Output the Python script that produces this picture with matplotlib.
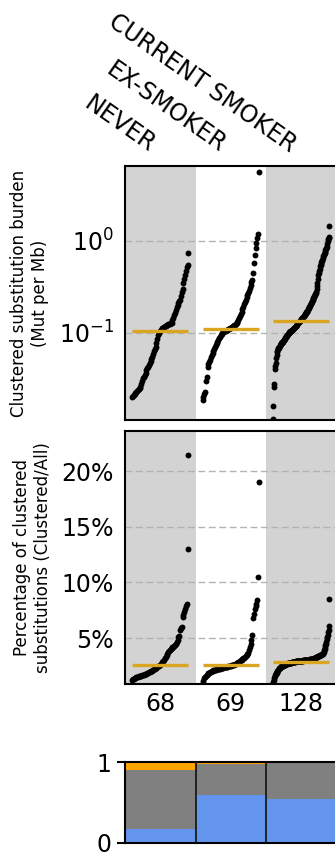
import numpy as np
import matplotlib
matplotlib.use("Agg")
import matplotlib.pyplot as plt
from matplotlib.ticker import PercentFormatter, NullLocator


# -----------------------------
# Data (sorted per group)
# -----------------------------
groups = ["NEVER", "EX-SMOKER", "CURRENT SMOKER"]
group_sizes = ["68", "69", "128"]

never_burden = [
    0.0200, 0.0205, 0.0210, 0.0215, 0.0222, 0.0228, 0.0235, 0.0240, 0.0246, 0.0253, 0.0261,
    0.028, 0.030, 0.032, 0.0335,
    0.035, 0.037, 0.039, 0.041, 0.043, 0.045,
    0.047, 0.050, 0.052, 0.055,
    0.059, 0.063, 0.067, 0.071,
    0.078, 0.086,
    0.094, 0.100, 0.104, 0.108,
    0.110, 0.112, 0.114, 0.116, 0.118, 0.120, 0.122,
    0.123, 0.124, 0.125, 0.126, 0.128, 0.129,
    0.138, 0.145, 0.155, 0.165, 0.178, 0.193,
    0.203, 0.212, 0.220, 0.229,
    0.250, 0.281, 0.300, 0.347,
    0.38, 0.427, 0.47, 0.52, 0.548, 0.734,
]
ex_burden = [
    0.0187, 0.0200, 0.0215, 0.0230,
    0.030, 0.033,
    0.043, 0.046, 0.048, 0.051,
    0.054, 0.057, 0.060, 0.063,
    0.066, 0.070, 0.074, 0.077,
    0.080, 0.084, 0.088, 0.091,
    0.094, 0.097, 0.100, 0.103,
    0.104, 0.105, 0.106, 0.107, 0.108, 0.109, 0.110, 0.112,
    0.113, 0.115, 0.117, 0.119, 0.121, 0.123, 0.125, 0.127,
    0.132, 0.138, 0.144, 0.151,
    0.160, 0.170, 0.181, 0.193,
    0.205, 0.217, 0.229, 0.244,
    0.259, 0.272, 0.288, 0.306,
    0.33, 0.355, 0.377, 0.446,
    0.571, 0.705, 0.83,
    0.95, 1.07, 1.19, 5.58,
]
current_burden = [
    0.0115,
    0.0162,
    0.026, 0.0275,
    0.040, 0.044, 0.047,
    0.053, 0.058, 0.0627,
    0.064, 0.066, 0.068, 0.069, 0.071, 0.072, 0.074,
    0.075, 0.076, 0.077, 0.078, 0.079, 0.080, 0.082, 0.083, 0.084, 0.086, 0.0875,
    0.089, 0.090, 0.092, 0.093, 0.095, 0.096, 0.097, 0.099, 0.100, 0.102, 0.103,
    0.104, 0.105, 0.106, 0.107, 0.108, 0.109, 0.110, 0.111, 0.113, 0.114, 0.115, 0.117,
    0.118, 0.120, 0.122,
    0.124, 0.125, 0.127, 0.129, 0.130, 0.132, 0.134, 0.136, 0.138, 0.140, 0.142, 0.144,
    0.146, 0.148, 0.150, 0.152, 0.154, 0.156, 0.159, 0.161, 0.164, 0.167, 0.170,
    0.174, 0.177, 0.181, 0.185, 0.189, 0.193, 0.197, 0.200,
    0.205, 0.210, 0.216, 0.222, 0.228, 0.233, 0.238,
    0.245, 0.252, 0.259, 0.266, 0.273, 0.281,
    0.300, 0.322, 0.347, 0.385, 0.427,
    0.445, 0.47, 0.50, 0.526,
    0.545, 0.565, 0.585, 0.605, 0.625, 0.65, 0.676,
    0.70, 0.72, 0.74, 0.765, 0.79, 0.81, 0.84, 0.867,
    0.93, 1.0, 1.05, 1.08,
    1.10, 1.455,
]
burden_medians = [0.105, 0.111, 0.135]

never_pct = [
    1.22, 1.28, 1.33, 1.38, 1.43, 1.49,
    1.51, 1.54, 1.56, 1.58, 1.61, 1.63, 1.65, 1.67,
    1.70, 1.74, 1.78, 1.81, 1.85, 1.89, 1.93, 1.97, 2.00, 2.04, 2.08, 2.12,
    2.18, 2.23, 2.29, 2.34, 2.40, 2.45, 2.50, 2.57,
    2.65, 2.75, 2.85, 2.95, 3.05, 3.17,
    3.30, 3.45, 3.60, 3.76,
    3.85, 3.93, 4.00, 4.08,
    4.15, 4.22, 4.30, 4.37,
    4.50, 4.65, 4.80,
    5.05, 5.20, 5.75,
    5.90, 6.00, 6.90,
    7.10, 7.35, 7.60, 7.85, 8.10,
    12.96, 21.4,
]
ex_pct = [
    0.92, 1.10, 1.37,
    1.50, 1.62, 1.70, 1.76,
    1.82, 1.87, 1.92, 1.97, 2.01, 2.05, 2.09, 2.12,
    2.14, 2.16, 2.18, 2.20, 2.22, 2.24, 2.26, 2.28, 2.30, 2.32, 2.34, 2.36, 2.38, 2.40,
    2.42, 2.44,
    2.46, 2.48, 2.50, 2.52, 2.54, 2.56, 2.59, 2.62, 2.65, 2.68, 2.72,
    2.77, 2.82, 2.88, 2.94, 3.00, 3.06, 3.12, 3.17,
    3.25, 3.33, 3.42, 3.50, 3.57, 3.62,
    3.90, 4.20, 4.50, 4.80, 5.26,
    6.76, 7.20, 7.60,
    7.90, 8.10, 8.41, 10.45, 19.04,
]
current_pct = [
    0.90, 1.05, 1.22,
    1.40, 1.55, 1.67,
    1.75, 1.83, 1.90, 1.97, 2.04, 2.12,
    2.17, 2.22, 2.27, 2.31, 2.35, 2.39, 2.42,
    2.45, 2.47, 2.49, 2.51, 2.53, 2.55, 2.57, 2.59, 2.61, 2.63, 2.65, 2.67, 2.69, 2.71, 2.72,
    2.73, 2.74, 2.75, 2.76, 2.77, 2.78, 2.79, 2.80, 2.81, 2.82, 2.83, 2.84, 2.85, 2.87,
    2.88, 2.885, 2.89, 2.90, 2.905, 2.91, 2.915, 2.92, 2.925, 2.93, 2.935, 2.94, 2.945,
    2.95, 2.955, 2.96, 2.965, 2.97, 2.975, 2.98, 2.985, 2.99, 2.995, 3.00, 3.005, 3.01,
    3.012, 3.015, 3.018, 3.02,
    3.03, 3.04, 3.05, 3.06, 3.07, 3.08, 3.09, 3.10, 3.11, 3.12, 3.13, 3.14, 3.15, 3.16,
    3.18, 3.20, 3.22, 3.24, 3.26, 3.28, 3.30, 3.32,
    3.34, 3.36, 3.38, 3.40, 3.42, 3.44, 3.46, 3.48, 3.50, 3.52, 3.54, 3.56, 3.59, 3.62,
    3.75, 3.90, 4.05, 4.20, 4.35, 4.50, 4.66,
    4.90, 5.10, 5.30, 5.50, 5.75, 6.10,
    8.47,
]
pct_medians = [2.54, 2.54, 2.84]

# stacked fractions per group (bottom to top)
frac_blue = [0.17, 0.59, 0.54]
frac_gray = [0.73, 0.385, 0.457]
frac_orange = [0.10, 0.025, 0.003]

burden_data = [never_burden, ex_burden, current_burden]
pct_data = [never_pct, ex_pct, current_pct]


# -----------------------------
# Figure layout
# -----------------------------
plt.rcParams["font.family"] = "DejaVu Sans"

W, H = 335, 861
fig = plt.figure(figsize=(W / 100, H / 100), dpi=100)

col_px = 70.5
left_px = 125
right_px = 350
x_lo = -0.5
x_hi = x_lo + (right_px - left_px) / col_px


def px_axes(top, bottom):
    return fig.add_axes([left_px / W, 1 - bottom / H, (right_px - left_px) / W, (bottom - top) / H])


ax_top = px_axes(166, 420)
ax_mid = px_axes(431, 684)
ax_bar = px_axes(762, 843)

GRID = dict(color="#b3b3b3", lw=1.0, ls=(0, (5, 2.5)), zorder=1)


def style_panel(ax):
    ax.set_xlim(x_lo, x_hi)
    for sp in ax.spines.values():
        sp.set_linewidth(1.5)
    for i in range(3):
        if i % 2 == 0:
            ax.axvspan(i - 0.5, i + 0.5, color="#d3d3d3", lw=0, zorder=0)


def draw_dots(ax, data, medians):
    for i, vals in enumerate(data):
        xs = np.linspace(i - 0.4, i + 0.4, len(vals))
        ax.scatter(xs, vals, s=18, color="black", lw=0, zorder=3)
        ax.plot([i - 0.4, i + 0.4], [medians[i], medians[i]], color="#DAA520", lw=2.4, zorder=4,
                solid_capstyle="butt")


# -----------------------------
# Top panel: clustered burden (log)
# -----------------------------
style_panel(ax_top)
ax_top.set_yscale("log")
ax_top.set_ylim(0.0113, 6.5)
for yv in [0.1, 1.0]:
    ax_top.axhline(yv, **GRID)
draw_dots(ax_top, burden_data, burden_medians)
ax_top.set_yticks([0.1, 1.0])
ax_top.yaxis.set_minor_locator(NullLocator())
ax_top.set_xticks([])
ax_top.tick_params(axis="y", length=0, pad=8, labelsize=17)
ax_top.set_ylabel("Clustered substitution burden\n(Mut per Mb)", fontsize=12, labelpad=7)

for i, name in enumerate(groups):
    ax_top.annotate(name, xy=(i, 1.0), xycoords=("data", "axes fraction"),
                    xytext=(-12, 13), textcoords="offset pixels",
                    rotation=-35, rotation_mode="anchor", ha="right", va="baseline",
                    fontsize=17)

# -----------------------------
# Middle panel: percentage clustered
# -----------------------------
style_panel(ax_mid)
ax_mid.set_ylim(0.87, 23.6)
for yv in [5, 10, 15, 20]:
    ax_mid.axhline(yv, **GRID)
draw_dots(ax_mid, pct_data, pct_medians)
ax_mid.set_yticks([5, 10, 15, 20])
ax_mid.yaxis.set_major_formatter(PercentFormatter(xmax=100, decimals=0))
ax_mid.set_xticks(range(3))
ax_mid.set_xticklabels(group_sizes)
ax_mid.tick_params(axis="y", length=0, pad=8, labelsize=17)
ax_mid.tick_params(axis="x", length=0, pad=6, labelsize=17)
ax_mid.set_ylabel("Percentage of clustered\nsubstitutions (Clustered/All)", fontsize=12, labelpad=7)

# -----------------------------
# Bottom panel: stacked fractions
# -----------------------------
ax_bar.set_xlim(x_lo, x_hi)
ax_bar.set_ylim(0, 1)
xs = np.arange(3)
b1 = np.array(frac_blue)
b2 = b1 + np.array(frac_gray)
ax_bar.bar(xs, frac_blue, width=1.0, color="#6495ED", edgecolor="none")
ax_bar.bar(xs, frac_gray, bottom=b1, width=1.0, color="#808080", edgecolor="none")
ax_bar.bar(xs, frac_orange, bottom=b2, width=1.0, color="#FFA500", edgecolor="none")
for xv in [0.5, 1.5, 2.5]:
    ax_bar.axvline(xv, color="#1a1a1a", lw=1.3, zorder=3)
for sp in ax_bar.spines.values():
    sp.set_linewidth(1.5)
ax_bar.set_xticks([])
ax_bar.set_yticks([0, 1])
ax_bar.set_yticklabels(["0", "1"])
ax_bar.tick_params(axis="y", length=6, width=1.5, pad=4, labelsize=17)

fig.savefig("out.png", dpi=100)
